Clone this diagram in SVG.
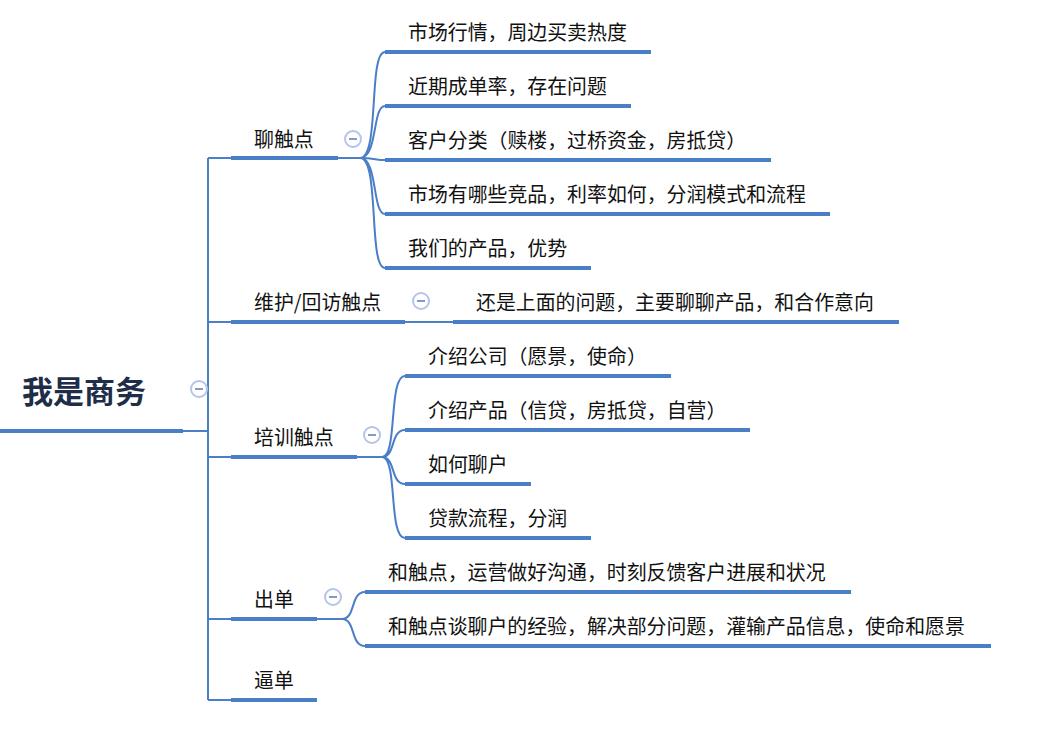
<svg xmlns="http://www.w3.org/2000/svg" width="1053" height="737" viewBox="0 0 1053 737">
<style>
text{font-family:"Noto Sans CJK SC","Liberation Sans",sans-serif;font-size:19.9px;fill:#111}
.u{stroke:#4a7fc8;stroke-width:4;fill:none}
.c{stroke:#4a7fc8;stroke-width:2;fill:none}
.t circle{fill:#fff;stroke:#b4c4ea;stroke-width:2}
.t line{stroke:#8a98c8;stroke-width:2}
</style>
<rect width="1053" height="737" fill="#fff"/>
<defs><g id="tg" class="t"><circle r="8"/><line x1="-4" y1="0" x2="4" y2="0"/></g></defs>
<g id="connectors" class="c">
<path d="M183 431 H208 M208 158 V700 M208 158 H231 M208 322 H231 M208 457 H231 M208 619 H231 M208 700 H231"/>
<path d="M338 158 H360 C380 158 368 52 385 52 M360 158 C378 158 372 106 385 106 M360 158 C375 158 375 160 385 160 M360 158 C378 158 372 214 385 214 M360 158 C380 158 368 268 385 268"/>
<path d="M405 322 H453"/>
<path d="M357 457 H382 C398 457 388 376 405 376 M382 457 C396 457 390 430 405 430 M382 457 C396 457 390 484 405 484 M382 457 C398 457 388 538 405 538"/>
<path d="M317 619 H342 C356 619 350 592 365 592 M342 619 C356 619 350 646 365 646"/>
</g>
<g id="root"><line class="u" x1="0" y1="431" x2="183" y2="431"/><text x="22" y="403" style="font-size:31px;font-weight:bold;fill:#1e2e48">我是商务</text><use href="#tg" x="199" y="389"/></g>
<g id="n1"><line class="u" x1="231" y1="158" x2="338" y2="158"/><text x="254" y="147">聊触点</text><use href="#tg" x="353" y="139"/></g>
<g id="n1a"><line class="u" x1="385" y1="52" x2="651" y2="52"/><text x="408" y="40">市场行情，周边买卖热度</text></g>
<g id="n1b"><line class="u" x1="385" y1="106" x2="631" y2="106"/><text x="408" y="94">近期成单率，存在问题</text></g>
<g id="n1c"><line class="u" x1="385" y1="160" x2="771" y2="160"/><text x="408" y="148">客户分类（赎楼，过桥资金，房抵贷）</text></g>
<g id="n1d"><line class="u" x1="385" y1="214" x2="830" y2="214"/><text x="408" y="202">市场有哪些竞品，利率如何，分润模式和流程</text></g>
<g id="n1e"><line class="u" x1="385" y1="268" x2="591" y2="268"/><text x="408" y="256">我们的产品，优势</text></g>
<g id="n2"><line class="u" x1="231" y1="322" x2="405" y2="322"/><text x="254" y="310">维护/回访触点</text><use href="#tg" x="421" y="301"/></g>
<g id="n2a"><line class="u" x1="453" y1="322" x2="899" y2="322"/><text x="476" y="310">还是上面的问题，主要聊聊产品，和合作意向</text></g>
<g id="n3"><line class="u" x1="231" y1="457" x2="357" y2="457"/><text x="254" y="445">培训触点</text><use href="#tg" x="372" y="435"/></g>
<g id="n3a"><line class="u" x1="405" y1="376" x2="671" y2="376"/><text x="428" y="364">介绍公司（愿景，使命）</text></g>
<g id="n3b"><line class="u" x1="405" y1="430" x2="750" y2="430"/><text x="428" y="418">介绍产品（信贷，房抵贷，自营）</text></g>
<g id="n3c"><line class="u" x1="405" y1="484" x2="531" y2="484"/><text x="428" y="472">如何聊户</text></g>
<g id="n3d"><line class="u" x1="405" y1="538" x2="591" y2="538"/><text x="428" y="526">贷款流程，分润</text></g>
<g id="n4"><line class="u" x1="231" y1="619" x2="317" y2="619"/><text x="254" y="607">出单</text><use href="#tg" x="333" y="597"/></g>
<g id="n4a"><line class="u" x1="365" y1="592" x2="851" y2="592"/><text x="388" y="580">和触点，运营做好沟通，时刻反馈客户进展和状况</text></g>
<g id="n4b"><line class="u" x1="365" y1="646" x2="991" y2="646"/><text x="388" y="634">和触点谈聊户的经验，解决部分问题，灌输产品信息，使命和愿景</text></g>
<g id="n5"><line class="u" x1="231" y1="700" x2="317" y2="700"/><text x="254" y="688">逼单</text></g>
</svg>
